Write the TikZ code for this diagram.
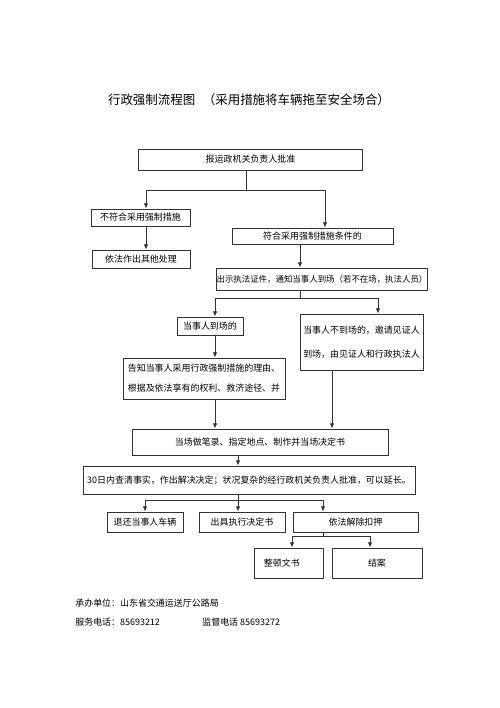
\documentclass[tikz,border=0pt]{standalone}
\usepackage{fontspec}
\setmainfont{Noto Sans CJK SC}
\usetikzlibrary{arrows.meta}
\begin{document}
\begin{tikzpicture}[x=0.02cm,y=-0.02cm,
  box/.style={draw=black!80, line width=0.5pt, inner sep=0pt, font=\fontsize{5.1pt}{6pt}\selectfont},
  arr/.style={draw=black!80, line width=0.5pt, -{Latex[length=3pt,width=2.6pt]}},
  ln/.style={draw=black!80, line width=0.5pt},
  txt/.style={inner sep=0pt, font=\fontsize{5.1pt}{6pt}\selectfont, anchor=west}]
\useasboundingbox (0,0) rectangle (500,708);
\fill[white] (0,0) rectangle (500,708);

\node[inner sep=0pt, font=\fontsize{7.1pt}{8pt}\selectfont] (title) at (249,100) {行政强制流程图\hspace{0.6em}（采用措施将车辆拖至安全场合）};

\node[box, minimum width=224*0.02cm, minimum height=21*0.02cm] (b1) at (250.5,159.5) {报运政机关负责人批准};
\node[box, minimum width=99*0.02cm, minimum height=17*0.02cm] (l1) at (140.5,217.5) {不符合采用强制措施};
\node[box, minimum width=161*0.02cm, minimum height=16*0.02cm] (r1) at (312.5,236) {符合采用强制措施条件的};
\node[box, minimum width=98*0.02cm, minimum height=18*0.02cm] (l2) at (141,259) {依法作出其他处理};
\node[box, minimum width=210*0.02cm, minimum height=22*0.02cm, font=\fontsize{4.8pt}{6pt}\selectfont] (b3) at (322,279) {出示执法证件，通知当事人到场（若不在场，执法人员）};
\node[box, minimum width=66*0.02cm, minimum height=18*0.02cm] (l3) at (210,326) {当事人到场的};
\node[box, minimum width=123*0.02cm, minimum height=56*0.02cm, align=left, font=\fontsize{5.1pt}{13.6pt}\selectfont] (r3) at (361.5,342) {当事人不到场的，邀请见证人\\到场，由见证人和行政执法人};
\node[box, minimum width=162*0.02cm, minimum height=41*0.02cm, align=left, font=\fontsize{5.1pt}{11.3pt}\selectfont] (tell) at (204,378.5) {告知当事人采用行政强制措施的理由、\\根据及依法享有的权利、救济途径、并};
\node[box, minimum width=256*0.02cm, minimum height=26*0.02cm] (rec) at (260,442) {当场做笔录、指定地点、制作并当场决定书};
\node[box, minimum width=332*0.02cm, minimum height=28*0.02cm] (d30) at (249,480) {30日内查清事实，作出解决决定；状况复杂的经行政机关负责人批准，可以延长。};
\node[box, minimum width=76*0.02cm, minimum height=20*0.02cm] (o1) at (145,522) {退还当事人车辆};
\node[box, minimum width=86*0.02cm, minimum height=20*0.02cm] (o2) at (242,522) {出具执行决定书};
\node[box, minimum width=125*0.02cm, minimum height=20*0.02cm] (o3) at (355.5,522) {依法解除扣押};
\node[box, minimum width=69*0.02cm, minimum height=30*0.02cm, text width=60*0.02cm, align=left] (f1) at (288.5,563) {\hspace*{0.6em}整顿文书};
\node[box, minimum width=90*0.02cm, minimum height=30*0.02cm] (f2) at (377,563) {结案};

% connectors
\coordinate (j1) at (246,190);
\coordinate (j1l) at (146,190);
\coordinate (j1r) at (325,190);
\draw[ln] (b1.south -| j1) -- (j1);
\draw[ln] (j1l) -- (j1r);
\draw[arr] (j1l) -- (j1l |- l1.north);
\draw[arr] (j1r) -- (j1r |- r1.north);
\coordinate (c1) at (146,0);
\draw[arr] (l1.south -| c1) -- (l2.north -| c1);
\coordinate (c2) at (300,0);
\draw[arr] (r1.south -| c2) -- (b3.north -| c2);

\coordinate (j2) at (300,298);
\coordinate (j2l) at (215,298);
\coordinate (j2r) at (378,298);
\draw[ln] (b3.south -| j2) -- (j2);
\draw[ln] (j2l) -- (j2r);
\draw[arr] (j2l) -- (j2l |- l3.north);
\draw[arr] (j2r) -- (j2r |- r3.north);
\coordinate (c3) at (215,0);
\draw[arr] (l3.south -| c3) -- (tell.north -| c3);
\draw[arr] (tell.south -| c3) -- (rec.north -| c3);
\coordinate (c4) at (332,0);
\draw[arr] (r3.south -| c4) -- (rec.north -| c4);
\coordinate (c5) at (238,0);
\draw[arr] (rec.south -| c5) -- (d30.north -| c5);

\coordinate (j3) at (238,500);
\coordinate (j3l) at (145,500);
\coordinate (j3r) at (323,500);
\draw[ln] (d30.south -| j3) -- (j3);
\draw[ln] (j3l) -- (j3r);
\draw[arr] (j3l) -- (j3l |- o1.north);
\draw[arr] (j3) -- (j3 |- o2.north);
\draw[arr] (j3r) -- (j3r |- o3.north);

\coordinate (j4) at (323,536);
\coordinate (j4l) at (292,536);
\coordinate (j4r) at (370,536);
\draw[ln] (o3.south -| j4) -- (j4);
\draw[ln] (j4l) -- (j4r);
\draw[arr] (j4l) -- (j4l |- f1.north);
\draw[arr] (j4r) -- (j4r |- f2.north);

% footer
\node[txt] (u1) at (75,603) {承办单位：山东省交通运送厅公路局};
\node[txt] (u2) at (75,622) {服务电话：85693212};
\node[txt] (u3) at (202,622) {监督电话 85693272};
\end{tikzpicture}
\end{document}
